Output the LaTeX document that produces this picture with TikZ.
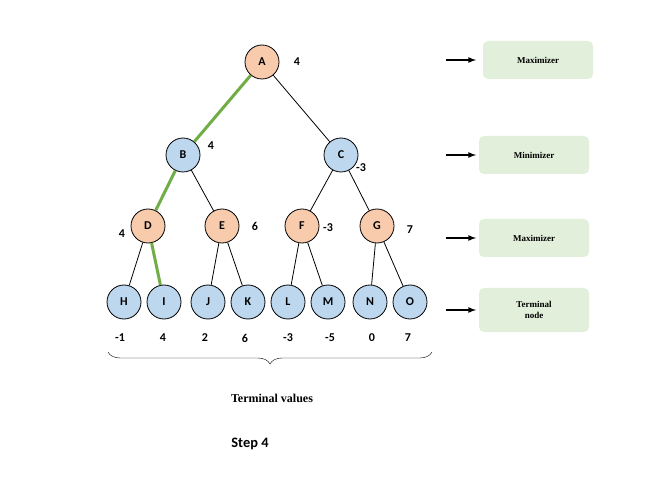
\documentclass[tikz,border=0pt]{standalone}
\usepackage{fontspec}
\setmainfont{Carlito}
\newfontfamily\lblfont{Liberation Serif}
\usetikzlibrary{decorations.pathreplacing}
\definecolor{maxcol}{HTML}{F8CBAD}
\definecolor{mincol}{HTML}{BDD7EE}
\definecolor{boxcol}{HTML}{E2EFDA}
\definecolor{pathcol}{HTML}{70AD47}
\tikzset{
  maxn/.style={circle,draw,thick,fill=maxcol,minimum size=34pt,inner sep=0pt,font=\large\bfseries},
  minn/.style={circle,draw,thick,fill=mincol,minimum size=34pt,inner sep=0pt,font=\large\bfseries},
  val/.style={font=\large\bfseries},
  kind/.style={rounded corners=5pt,fill=boxcol,minimum width=110pt,minimum height=38pt,align=center,font=\lblfont\small\bfseries},
}
\begin{document}
\begin{tikzpicture}[x=1pt,y=-1pt]
  \useasboundingbox (0,0) rectangle (659,481);
  \node[maxn] at (262,62) (A) {A};
  \node[minn] at (183,155) (B) {B};
  \node[minn] at (341,155) (C) {C};
  \node[maxn] at (148,226) (D) {D};
  \node[maxn] at (222,226) (E) {E};
  \node[maxn] at (302,226) (F) {F};
  \node[maxn] at (377,226) (G) {G};
  \node[minn] at (124,302) (H) {H};
  \node[minn] at (164,302) (I) {I};
  \node[minn] at (208,302) (J) {J};
  \node[minn] at (248,302) (K) {K};
  \node[minn] at (288,302) (L) {L};
  \node[minn] at (328,302) (M) {M};
  \node[minn] at (370,302) (N) {N};
  \node[minn] at (410,302) (O) {O};
  \foreach \x/\y in {A/C,C/F,C/G,B/E,D/H,E/J,E/K,F/L,F/M,G/N,G/O} \draw[thick] (\x) -- (\y);
  \foreach \x/\y in {A/B,B/D,D/I} \draw[pathcol,line width=3pt] (\x) -- (\y);
  % backed-up values
  \node[val] at (297,62) (vA) {4};
  \node[val] at (211,146) (vB) {4};
  \node[val] at (361,168) (vC) {-3};
  \node[val] at (122,234) (vD) {4};
  \node[val] at (255,226) (vE) {6};
  \node[val] at (328,228) (vF) {-3};
  \node[val] at (410,230) (vG) {7};
  \foreach \n/\x/\v in {H/120/-1,I/163/4,J/205/2,K/245/6,L/288/-3,M/330/-5,N/372/0,O/408/7}
    \node[val] at (\x,338) (t\n) {\v};
  \draw[decorate,decoration={brace,amplitude=12pt,mirror}] (108,352) -- (432,352);
  \node[font=\lblfont\large\bfseries] at (272,398) (tv) {Terminal values};
  \node[font=\Large\bfseries] at (250,444) (step) {Step 4};
  % level boxes
  \node[kind] at (538,60) (k1) {Maximizer};
  \node[kind] at (534,155) (k2) {Minimizer};
  \node[kind] at (534,238) (k3) {Maximizer};
  \node[kind,minimum height=44pt] at (534,310) (k4) {Terminal\\node};
  \foreach \k/\y in {k1/60,k2/155,k3/238,k4/310} {
    \coordinate (s\k) at (446,\y);
    \draw[-latex,line width=1.6pt] (s\k) -- ++(30,0);
  }
\end{tikzpicture}
\end{document}
